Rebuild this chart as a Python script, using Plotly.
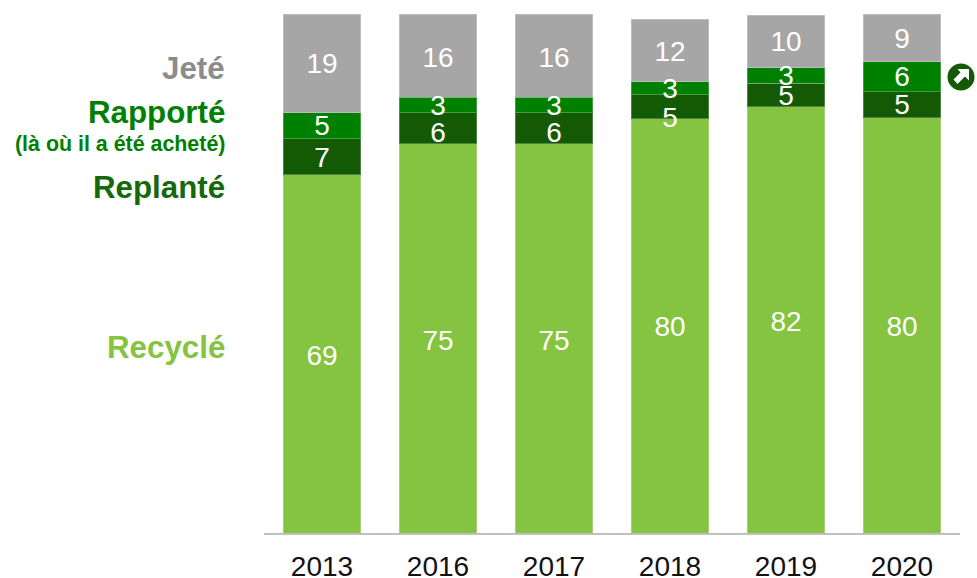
import plotly.graph_objects as go

W, H = 977, 578
PL, PR, PT, PB = 264, 960, 14, 533

years = ["2013", "2016", "2017", "2018", "2019", "2020"]
recycle = [69, 75, 75, 79.8, 82.1, 80]
replante = [7, 6, 6, 4.6, 4.6, 5]
rapporte = [5, 3, 3, 2.5, 2.9, 5.8]
jete = [19, 16, 16, 12.1, 10.2, 9.2]
recycle_lbl = ["69", "75", "75", "80", "82", "80"]
replante_lbl = ["7", "6", "6", "5", "5", "5"]
rapporte_lbl = ["5", "3", "3", "3", "3", "6"]
jete_lbl = ["19", "16", "16", "12", "10", "9"]
# heights at which the value labels sit (they are not exactly centred in the source)
recycle_pos = [33.8, 36.7, 36.7, 39.3, 40.3, 39.3]
replante_pos = [71.9, 76.6, 76.6, 79.6, 83.8, 82.1]
rapporte_pos = [78.0, 81.9, 81.9, 85.1, 87.7, 87.5]
jete_pos = [89.9, 91.2, 91.2, 92.3, 94.2, 94.8]

FONT = "Liberation Sans, Arial, sans-serif"
series = [
    ("Recyclé", recycle, recycle_lbl, recycle_pos, "#84C441"),
    ("Replanté", replante, replante_lbl, replante_pos, "#145A05"),
    ("Rapporté", rapporte, rapporte_lbl, rapporte_pos, "#008000"),
    ("Jeté", jete, jete_lbl, jete_pos, "#A6A6A6"),
]

fig = go.Figure()
for name, vals, lbls, pos, col in series:
    fig.add_bar(
        x=years, y=vals, name=name, width=0.672,
        marker=dict(color=col, line=dict(color="rgba(255,255,255,0.25)", width=1)),
        hoverinfo="skip",
    )
for name, vals, lbls, pos, col in series:
    fig.add_scatter(
        x=years, y=pos, mode="text", text=lbls, textposition="middle center",
        textfont=dict(family=FONT, size=28, color="white"),
        cliponaxis=False, hoverinfo="skip", showlegend=False,
    )

def px(x):
    return (x - PL) / (PR - PL)

def py(y):
    return (PB - y) / (PB - PT)

labels = [
    ("Jeté", 69, 31.3, "#8C8C8C"),
    ("Rapporté", 113, 31.3, "#008000"),
    ("(là où il a été acheté)", 144, 21.4, "#008000"),
    ("Replanté", 187, 31.3, "#146A0A"),
    ("Recyclé", 347, 31.3, "#84C441"),
]
annotations = [
    dict(text=f"<b>{t}</b>", xref="paper", yref="paper", x=px(227), y=py(y),
         xanchor="right", yanchor="middle", showarrow=False,
         font=dict(family=FONT, size=s, color=c))
    for t, y, s, c in labels
]

arrow_pts = [(969, 69), (957.5, 69), (960.5, 72.5), (953.5, 79.5), (957.5, 84), (965, 76.5), (969, 80.5)]
arrow_path = "M " + " L ".join(f"{px(x):.5f} {py(y):.5f}" for x, y in arrow_pts) + " Z"
shapes = [
    dict(type="circle", xref="paper", yref="paper",
         x0=px(947.5), x1=px(974.5), y0=py(90.5), y1=py(63.5),
         fillcolor="#145A05", line=dict(width=0)),
    dict(type="path", xref="paper", yref="paper", path=arrow_path,
         fillcolor="white", line=dict(width=0)),
]

fig.update_layout(
    width=W, height=H, barmode="stack", showlegend=False,
    paper_bgcolor="white", plot_bgcolor="white", bargap=0.328,
    margin=dict(l=PL, r=W - PR, t=PT, b=H - PB, pad=0),
    annotations=annotations, shapes=shapes,
    xaxis=dict(
        type="category", range=[-0.5, 5.5], showgrid=False, ticks="",
        automargin=False,
        showline=True, linecolor="#BFBFBF", linewidth=2,
        tickfont=dict(family=FONT, size=28, color="#111111"),
        ticklabelstandoff=7,
    ),
    yaxis=dict(range=[0, 100], visible=False, showgrid=False, zeroline=False,
               automargin=False),
)
fig.write_html("out.html", config={"displayModeBar": False},
               post_script="document.body.style.margin='0';")
